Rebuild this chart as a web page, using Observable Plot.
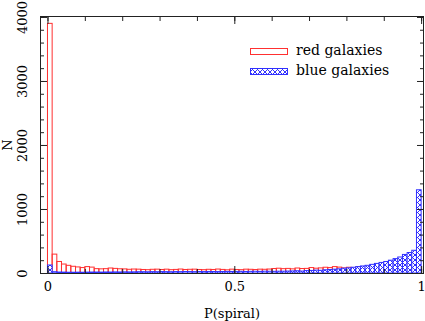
<!DOCTYPE html>
<html><head><meta charset="utf-8">
<script src="https://cdn.jsdelivr.net/npm/d3@7"></script>
<script src="https://cdn.jsdelivr.net/npm/@observablehq/plot@0.6"></script>
<style>
body{margin:0;background:#fff}
#wrap{position:relative;width:425px;height:321px}
.lt{position:absolute;font-family:"DejaVu Serif";font-size:14px;line-height:14px;color:#000;white-space:nowrap}
.sw{position:absolute}
</style>
</head><body><div id="wrap"></div>
<script>
const binCount = 80;
const redCounts = [3900,295,180,140,120,105,95,85,100,92,
  68,65,68,78,72,66,64,58,62,60,
  55,52,58,60,55,60,52,56,62,55,
  58,60,55,52,58,55,62,56,50,60,
  55,52,60,58,54,60,58,62,70,75,
  68,72,65,78,70,72,85,75,80,90,
  85,100,92,80,90,85,95,80,75,80,
  70,75,65,70,60,65,55,60,50,50];
const blueCounts = [125,20,15,14,12,12,13,12,14,15,
  15,14,16,15,17,16,18,17,18,20,
  20,19,21,20,22,21,20,22,21,23,
  22,21,23,22,24,23,22,24,25,24,
  25,26,24,26,27,25,28,27,26,28,
  28,30,32,35,30,38,40,45,42,50,
  55,60,65,75,80,90,100,110,120,135,
  150,165,180,200,225,250,290,320,355,1300];
const xMajor = [0, 0.5, 1];
const xMinor = [0, 0.1, 0.2, 0.3, 0.4, 0.5, 0.6, 0.7, 0.8, 0.9, 1];
const yMajor = [0, 1000, 2000, 3000, 4000];
const yMinor = [0,200,400,600,800,1000,1200,1400,1600,1800,2000,2200,2400,2600,2800,3000,3200,3400,3600,3800,4000];
const seriesNames = ["red galaxies", "blue galaxies"];
const yTitle = ["N"];

const redData = redCounts.map((n, i) => ({x1: i / binCount, x2: (i + 1) / binCount, n}));
const blueData = blueCounts.map((n, i) => ({x1: i / binCount, x2: (i + 1) / binCount, n}));
const blank = () => "";

const chart = Plot.plot({
  width: 425, height: 321,
  marginLeft: 40, marginRight: 2, marginTop: 16, marginBottom: 48,
  style: {fontFamily: "DejaVu Serif", fontSize: "13px", background: "#fff", color: "#000"},
  x: {domain: [-0.02, 1.005]},
  y: {domain: [0, 4015]},
  marks: [
    Plot.rectY(redData, {x1: "x1", x2: "x2", y: "n", fill: "none", stroke: "#ff3030", strokeWidth: 1}),
    Plot.rectY(blueData, {x1: "x1", x2: "x2", y: "n", fill: "url(#xhatch)", stroke: "#3030ff", strokeWidth: 1}),
    Plot.frame({stroke: "#222"}),
    Plot.axisX(xMajor, {anchor: "bottom", tickSize: -7, tickPadding: 15, tickFormat: d => String(d), label: "P(spiral)", labelAnchor: "center", labelOffset: 44, labelArrow: "none", stroke: "#222"}),
    Plot.axisX(xMinor, {anchor: "bottom", tickSize: -4, tickFormat: blank, label: null, stroke: "#222"}),
    Plot.axisX(xMajor, {anchor: "top", tickSize: -7, tickFormat: blank, label: null, stroke: "#222"}),
    Plot.axisX(xMinor, {anchor: "top", tickSize: -4, tickFormat: blank, label: null, stroke: "#222"}),
    Plot.axisY(yMajor, {anchor: "left", tickSize: -7, tickFormat: blank, label: null, stroke: "#222"}),
    Plot.axisY(yMinor, {anchor: "left", tickSize: -4, tickFormat: blank, label: null, stroke: "#222"}),
    Plot.axisY(yMajor, {anchor: "right", tickSize: -7, tickFormat: blank, label: null, stroke: "#222"}),
    Plot.axisY(yMinor, {anchor: "right", tickSize: -4, tickFormat: blank, label: null, stroke: "#222"}),
    Plot.text(yMajor, {y: d => d, text: d => String(d), frameAnchor: "left", dx: -18, rotate: -90, textAnchor: "middle", lineAnchor: "middle", fontSize: 13}),
    Plot.text(yTitle, {text: d => d, frameAnchor: "left", dx: -33, rotate: -90, textAnchor: "middle", lineAnchor: "middle", fontSize: 13})
  ]
});

const ns = "http://www.w3.org/2000/svg";
const hatch = id => `<pattern id="${id}" patternUnits="userSpaceOnUse" width="5" height="5"><rect width="5" height="5" fill="#fff"/><path d="M0,0L5,5M5,0L0,5M-1,4L1,6M4,-1L6,1M-1,1L1,-1M4,6L6,4" stroke="#3030ff" stroke-width="1"/></pattern>`;
let defs = chart.querySelector("defs");
if (!defs) { defs = document.createElementNS(ns, "defs"); chart.insertBefore(defs, chart.firstChild); }
defs.innerHTML += hatch("xhatch");

const wrap = document.getElementById("wrap");
wrap.appendChild(chart);

// legend
const swatches = [
  {top: 48, fill: "none", stroke: "#ff3030"},
  {top: 68, fill: "url(#xhatch2)", stroke: "#3030ff"}
];
seriesNames.forEach((name, i) => {
  const s = document.createElementNS(ns, "svg");
  s.setAttribute("class", "sw");
  s.setAttribute("width", "38"); s.setAttribute("height", "8");
  s.style.left = "250px"; s.style.top = (swatches[i].top - 1) + "px";
  s.innerHTML = (i === 1 ? `<defs>${hatch("xhatch2")}</defs>` : "") +
    `<rect x="0.5" y="1.5" width="37" height="6" fill="${swatches[i].fill}" stroke="${swatches[i].stroke}"/>`;
  wrap.appendChild(s);
  const t = document.createElement("div");
  t.className = "lt";
  t.textContent = name;
  t.style.left = "296px"; t.style.top = (swatches[i].top - 5) + "px";
  wrap.appendChild(t);
});
</script>
</body></html>
